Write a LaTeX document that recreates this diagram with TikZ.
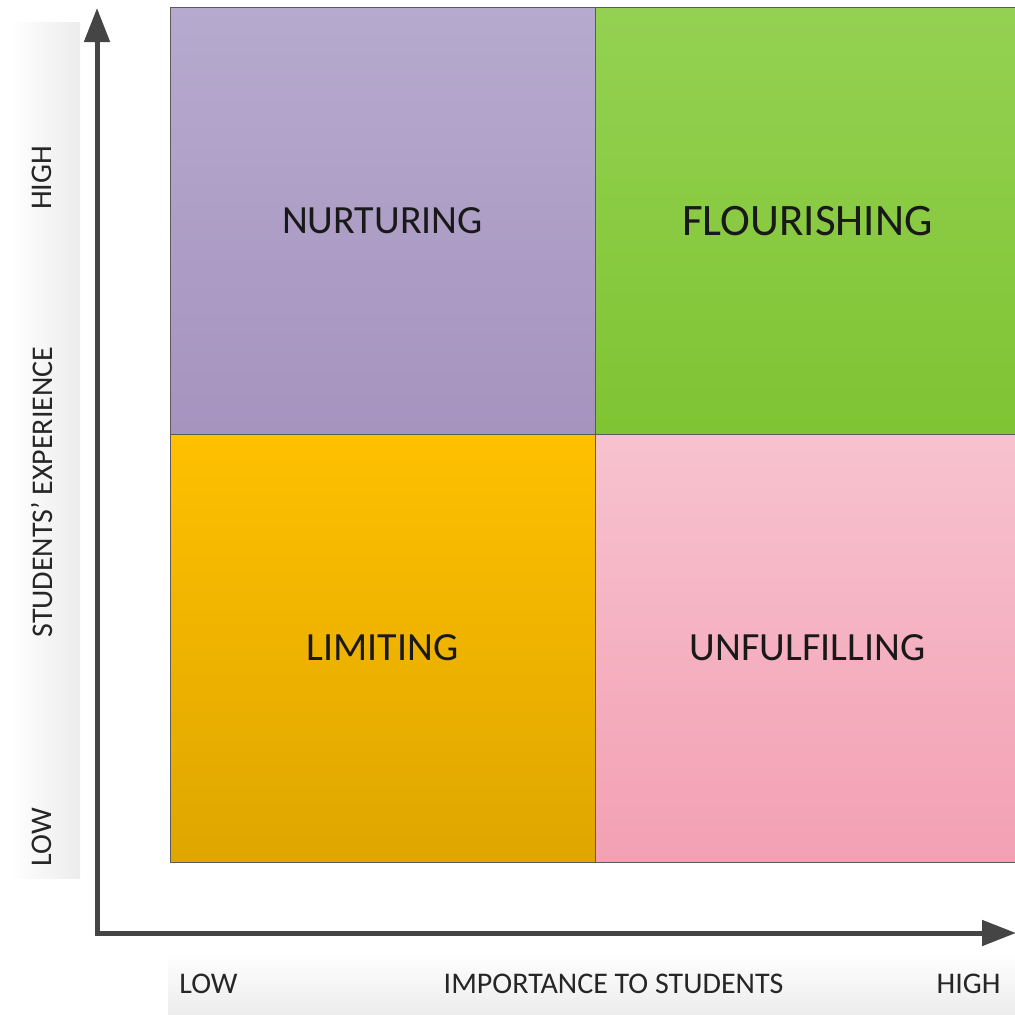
\documentclass[tikz,border=0pt]{standalone}
\usepackage{fontspec}
\setmainfont{Carlito}
\usetikzlibrary{arrows.meta}
\definecolor{axisgray}{HTML}{454545}
\definecolor{bandgray}{HTML}{ECECEC}
\definecolor{edgegray}{HTML}{5A5A5A}
\definecolor{purtop}{HTML}{B6AACE}
\definecolor{purbot}{HTML}{A693BF}
\definecolor{grntop}{HTML}{94D152}
\definecolor{grnbot}{HTML}{7FC433}
\definecolor{yeltop}{HTML}{FFC000}
\definecolor{yelbot}{HTML}{DEA600}
\definecolor{pnktop}{HTML}{F7C2CF}
\definecolor{pnkbot}{HTML}{F3A0B3}
\begin{document}
\begin{tikzpicture}[x=1pt,y=-1pt,
  quad/.style={draw=edgegray, line width=1pt, minimum width=425pt, minimum height=428pt, inner sep=0pt, text=black!90, font=\fontsize{40}{44}\selectfont},
  axislbl/.style={text=black!85, font=\fontsize{30}{34}\selectfont, inner sep=0pt},
  axis/.style={draw=axisgray, line width=5pt, line join=miter, {Triangle[length=34pt,width=25pt]}-{Triangle[length=34pt,width=25pt]}}
]
\useasboundingbox (0,0) rectangle (1015,1015);
% background bands
\fill[left color=white, right color=bandgray] (10,22) rectangle (80,878);
\fill[top color=white, bottom color=bandgray] (168,952) rectangle (1015,1015);
% quadrants
\node[quad, top color=purtop, bottom color=purbot] (nur) at (382.5,221) {NURTURING};
\node[quad, top color=grntop, bottom color=grnbot, font=\fontsize{45}{50}\selectfont] (flo) at (807.5,221) {FLOURISHING};
\node[quad, top color=yeltop, bottom color=yelbot] (lim) at (382.5,648) {LIMITING};
\node[quad, top color=pnktop, bottom color=pnkbot] (unf) at (807.5,648) {UNFULFILLING};
% axes
\coordinate (ytop) at (97,8);
\coordinate (orig) at (97,933);
\coordinate (xend) at (1016,933);
\draw[axis] (ytop) -- (orig) -- (xend);
% labels
\node[axislbl, rotate=90] (yhigh) at (42,178) {HIGH};
\node[axislbl, rotate=90] (ytitle) at (42,492) {STUDENTS’ EXPERIENCE};
\node[axislbl, rotate=90] (ylow) at (42,837) {LOW};
\node[axislbl] (xlow) at (208.5,984) {LOW};
\node[axislbl] (xtitle) at (613.5,984) {IMPORTANCE TO STUDENTS};
\node[axislbl] (xhigh) at (968.5,984) {HIGH};
\end{tikzpicture}
\end{document}
